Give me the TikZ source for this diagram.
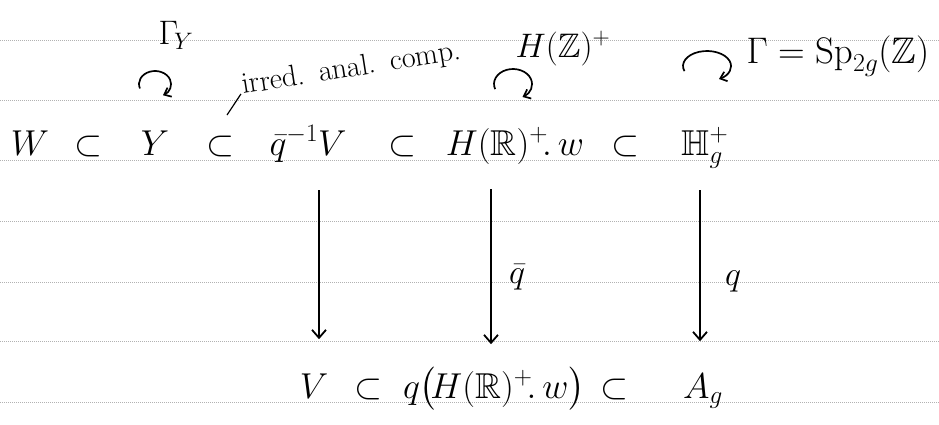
\RequirePackage{fix-cm}
\documentclass[tikz,border=0pt]{standalone}
\usepackage{amsmath,amssymb}
\usetikzlibrary{arrows.meta}
\begin{document}
\begin{tikzpicture}[x=1pt,y=-1pt,
  big/.style={inner sep=0pt, anchor=base, font=\fontsize{36}{40}\selectfont},
  mid/.style={inner sep=0pt, anchor=base, font=\fontsize{34}{36}\selectfont},
  small/.style={inner sep=0pt, font=\fontsize{30}{32}\selectfont},
  arr/.style={line width=1.8pt, -{Straight Barb[length=8pt,width=14pt]}},
  loopy/.style={line width=1.7pt, -{Straight Barb[length=6pt,width=10pt]}},
  ruleline/.style={gray!60, line width=0.6pt, dash pattern=on 1pt off 1pt}]
\useasboundingbox (0,0) rectangle (939,424);
\foreach \y in {40,100,160,221,282,341,402} \draw[ruleline] (0,\y) -- (939,\y);

% top row
\node[mid] (GY) at (176,44) {$\Gamma_{\!Y}$};
\node[mid] (HZ) at (563,57) {$H(\mathbb Z)^{+}$};
\node[mid, font=\fontsize{37}{40}\selectfont] (Sp) at (838,63) {$\Gamma = \mathrm{Sp}_{2g}(\mathbb Z)$};
\node[small, rotate=9, anchor=base west] (irr) at (243,94) {irred.\ \,anal.\ \,comp.};

% action loops
\draw[loopy] (155,84) ++(160:16 and 13) arc[start angle=160,end angle=420,x radius=16,y radius=13];
\draw[loopy] (513,84) ++(160:19 and 15) arc[start angle=160,end angle=420,x radius=19,y radius=15];
\draw[loopy] (707,66) ++(160:24 and 15) arc[start angle=160,end angle=420,x radius=24,y radius=15];

% middle row
\node[big] (W) at (30,155) {$W$};
\node[big] (s1) at (88,155) {$\subset$};
\node[big] (Y) at (155,155) {$Y$};
\node[big] (s2) at (220,155) {$\subset$};
\node[big] (qV) at (308,155) {$\bar q^{-1}V$};
\node[big] (s3) at (402,155) {$\subset$};
\node[big] (HRw) at (515,155) {$H(\mathbb R)^{+}\!.\,w$};
\node[big] (s4) at (625,155) {$\subset$};
\node[big] (Hg) at (705,155) {$\mathbb H_g^{+}$};

\coordinate (tick) at (227,115);
\draw[line width=1.2pt] (tick) -- ([shift={(-3pt,6pt)}]irr.south west);

% bottom row
\node[big] (Vb) at (314,398) {$V$};
\node[big] (s5) at (368,398) {$\subset$};
\node[big] (qHRw) at (494,398) {$q\bigl(\!H(\mathbb R)^{+}\!.\,w\bigr)$};
\node[big] (s6) at (614,398) {$\subset$};
\node[big] (Ag) at (703,398) {$A_g$};

% arrows
\coordinate (c1) at (319,0);
\coordinate (c2) at (491,0);
\coordinate (c3) at (700,0);
\draw[arr, shorten <=28pt, shorten >=34pt] (qV.south -| c1) -- (Vb.north -| c1);
\draw[arr, shorten <=25pt, shorten >=23pt] (HRw.south -| c2) -- (qHRw.north -| c2);
\draw[arr, shorten <=21pt, shorten >=32pt] (Hg.south -| c3) -- (Ag.north -| c3);

\node[mid] (lq1) at (517,283) {$\bar q$};
\node[mid] (lq2) at (733,285) {$q$};
\end{tikzpicture}
\end{document}
